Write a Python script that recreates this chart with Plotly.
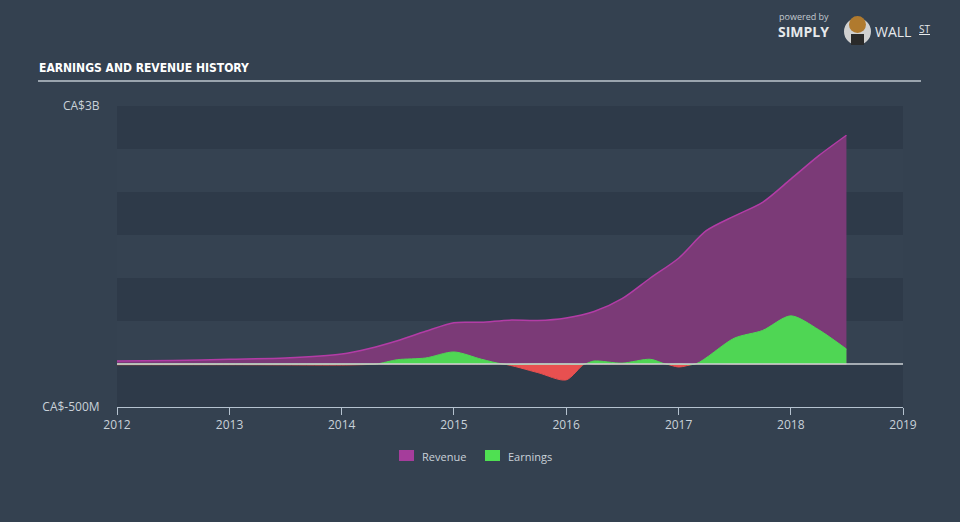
import plotly.graph_objects as go

# ---- data (values in CA$) ----
rev_dates = ["2012-01-01", "2012-07-01", "2013-01-01", "2013-07-01", "2014-01-01",
             "2014-04-01", "2014-07-01", "2014-10-01", "2015-01-01", "2015-04-01",
             "2015-07-01", "2015-10-01", "2016-01-01", "2016-04-01", "2016-07-01",
             "2016-10-01", "2017-01-01", "2017-04-01", "2017-07-01", "2017-10-01",
             "2018-01-01", "2018-04-01", "2018-07-01"]
revenue_m = [35, 40, 55, 70, 115, 180, 270, 380, 480, 485, 510, 505, 535, 610, 760,
             1000, 1230, 1550, 1720, 1880, 2150, 2420, 2660]

earn_dates = ["2012-01-01", "2012-07-01", "2013-01-01", "2013-07-01", "2014-01-01",
              "2014-04-01", "2014-04-25", "2014-07-01", "2014-10-01", "2015-01-01",
              "2015-04-01", "2015-06-10", "2015-10-01", "2016-01-01", "2016-03-01",
              "2016-04-01", "2016-07-01", "2016-10-01", "2016-11-20", "2017-01-01",
              "2017-02-25", "2017-07-01", "2017-10-01", "2018-01-01", "2018-04-01",
              "2018-07-01"]
earnings_m = [-8, -8, -8, -10, -12, -5, 0, 50, 70, 140, 55, 0, -100, -185, 0,
              35, 10, 55, 0, -35, 0, 300, 390, 560, 400, 174]

year_ticks = ["2012", "2013", "2014", "2015", "2016", "2017", "2018", "2019"]
y_tick_vals = [-500e6, 3e9]
y_tick_text = ["CA$-500M", "CA$3B"]
band_edges = [-500e6, 0, 500e6, 1e9, 1.5e9, 2e9, 2.5e9, 3e9]

revenue = [v * 1e6 for v in revenue_m]
earnings = [v * 1e6 for v in earnings_m]
earn_pos = [max(v, 0) for v in earnings]
earn_neg = [min(v, 0) for v in earnings]

# ---- layout geometry (pixels) ----
W, H = 960, 522
PX0, PX1, PY0, PY1 = 117, 903, 106, 407


def px(x):
    return (x - PX0) / (PX1 - PX0)


def py(y):
    return (PY1 - y) / (PY1 - PY0)


BG = "#344150"
DARK = "#2e3a49"
LIGHT = "#354251"
TXT = "#c9d1d9"

fig = go.Figure()

fig.add_trace(go.Scatter(
    x=rev_dates, y=revenue, mode="lines", line=dict(color="#b33ca6", width=1.5, shape="spline", smoothing=0.8),
    fill="tozeroy", fillcolor="#7b3a77", name="Revenue", showlegend=False, hoverinfo="skip"))
fig.add_trace(go.Scatter(
    x=earn_dates, y=earn_neg, mode="lines", line=dict(color="#e85050", width=1, shape="spline", smoothing=0.8),
    fill="tozeroy", fillcolor="#e85050", name="Earnings (loss)", showlegend=False, hoverinfo="skip"))
fig.add_trace(go.Scatter(
    x=earn_dates, y=earn_pos, mode="lines", line=dict(color="#4fd654", width=1, shape="spline", smoothing=0.8),
    fill="tozeroy", fillcolor="#4fd654", name="Earnings", showlegend=False, hoverinfo="skip"))

shapes = []
# horizontal bands
for i in range(len(band_edges) - 1):
    lo, hi = band_edges[i], band_edges[i + 1]
    col = DARK if i in (0, 2, 4, 6) else LIGHT
    shapes.append(dict(type="rect", xref="paper", yref="y", x0=0, x1=1, y0=lo, y1=hi,
                       fillcolor=col, line=dict(width=0), layer="below"))
# zero line
shapes.append(dict(type="line", xref="paper", yref="y", x0=0, x1=1, y0=0, y1=0,
                   line=dict(color="#cdd2d6", width=1.5), layer="above"))
# title underline
shapes.append(dict(type="line", xref="paper", yref="paper", x0=px(38), x1=px(921), y0=py(81), y1=py(81),
                   line=dict(color="#9aa4ae", width=2)))
# legend swatches
shapes.append(dict(type="rect", xref="paper", yref="paper", x0=px(399), x1=px(414), y0=py(461), y1=py(450),
                   fillcolor="#a53d9b", line=dict(width=0)))
shapes.append(dict(type="rect", xref="paper", yref="paper", x0=px(485), x1=px(500), y0=py(461), y1=py(450),
                   fillcolor="#4fe052", line=dict(width=0)))
# logo circle
shapes.append(dict(type="circle", xref="paper", yref="paper", x0=px(844), x1=px(871), y0=py(45), y1=py(18),
                   fillcolor="#d0d0d0", line=dict(width=0)))
shapes.append(dict(type="circle", xref="paper", yref="paper", x0=px(849), x1=px(866), y0=py(33), y1=py(16),
                   fillcolor="#b07a2e", line=dict(width=0)))
shapes.append(dict(type="rect", xref="paper", yref="paper", x0=px(851), x1=px(864), y0=py(45), y1=py(34),
                   fillcolor="#2a2a2a", line=dict(width=0)))

annotations = [
    dict(text="<b>EARNINGS AND REVENUE HISTORY</b>", x=px(37), y=py(68), xref="paper", yref="paper",
         xanchor="left", yanchor="middle", showarrow=False,
         font=dict(family="DejaVu Sans Condensed, Liberation Sans Narrow, DejaVu Sans, sans-serif",
                   size=12, color="#ffffff")),
    dict(text="Revenue", x=px(420), y=py(456), xref="paper", yref="paper", xanchor="left", yanchor="middle",
         showarrow=False, font=dict(family="Open Sans", size=11, color=TXT)),
    dict(text="Earnings", x=px(506), y=py(456), xref="paper", yref="paper", xanchor="left", yanchor="middle",
         showarrow=False, font=dict(family="Open Sans", size=11, color=TXT)),
    dict(text="powered by", x=px(777), y=py(16), xref="paper", yref="paper", xanchor="left", yanchor="middle",
         showarrow=False, font=dict(family="Open Sans", size=9, color="#c3c9cf")),
    dict(text="<b>SIMPLY</b>", x=px(776), y=py(32), xref="paper", yref="paper", xanchor="left", yanchor="middle",
         showarrow=False, font=dict(family="Open Sans", size=14, color="#e6e9ec")),
    dict(text="WALL", x=px(873), y=py(32), xref="paper", yref="paper", xanchor="left", yanchor="middle",
         showarrow=False, font=dict(family="Open Sans", size=14, color="#e6e9ec")),
    dict(text="<u>ST</u>", x=px(917), y=py(29), xref="paper", yref="paper", xanchor="left", yanchor="middle",
         showarrow=False, font=dict(family="Open Sans", size=10, color="#e6e9ec")),
]

fig.update_layout(
    width=W, height=H,
    margin=dict(l=PX0, r=W - PX1, t=PY0, b=H - PY1),
    paper_bgcolor=BG, plot_bgcolor="rgba(0,0,0,0)",
    shapes=shapes, annotations=annotations, showlegend=False,
    xaxis=dict(type="date", range=["2012-01-01", "2019-01-01"],
               tickvals=[f"{y}-01-01" for y in year_ticks], ticktext=year_ticks,
               showgrid=False, zeroline=False, showline=True, linecolor="#b5c2cf", linewidth=1,
               ticks="outside", ticklen=7, tickcolor="#b5c2cf", tickwidth=1,
               tickfont=dict(family="Open Sans", size=12, color=TXT)),
    yaxis=dict(range=[-500e6, 3e9], tickvals=y_tick_vals, ticktext=y_tick_text,
               showgrid=False, zeroline=False, showline=False,
               ticks="outside", ticklen=14, tickcolor="rgba(0,0,0,0)",
               tickfont=dict(family="Open Sans", size=12, color=TXT)),
)

fig.write_html("out.html")
